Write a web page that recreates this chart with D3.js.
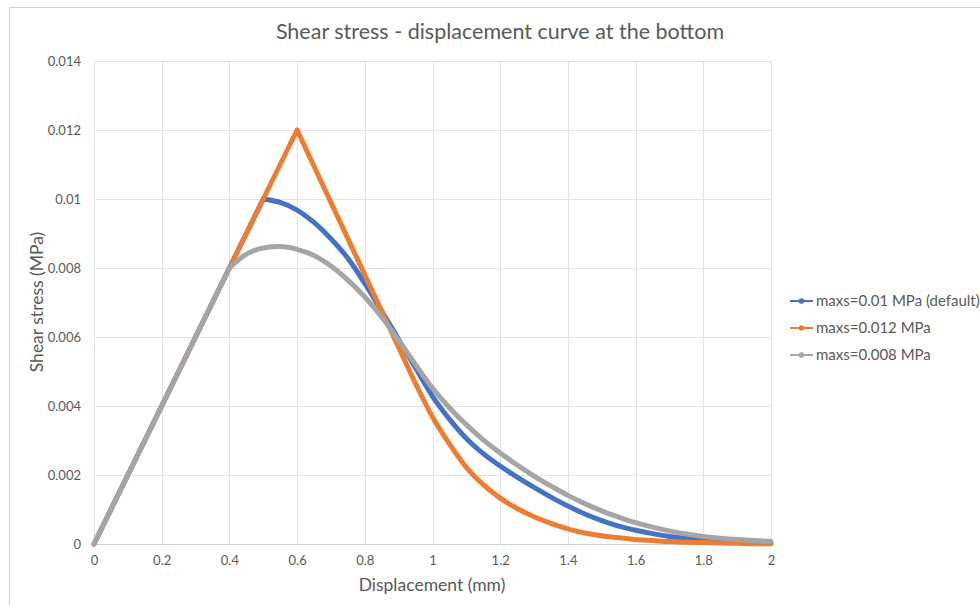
<!DOCTYPE html>
<html>
<head>
<meta charset="utf-8">
<script src="https://cdn.jsdelivr.net/npm/d3@7"></script>
<style>
  html, body { margin: 0; padding: 0; background: #fff; }
  svg { display: block; font-family: Lato, "Open Sans", sans-serif; }
</style>
</head>
<body>
<svg id="chart" width="980" height="605"></svg>
<script>
// Displacement (mm) sample points
const displacement = [0, 0.1, 0.2, 0.3, 0.4, 0.45, 0.5, 0.55, 0.6, 0.65, 0.7, 0.75, 0.8, 0.85, 0.9, 0.95,
  1.0, 1.05, 1.1, 1.15, 1.2, 1.25, 1.3, 1.35, 1.4, 1.45, 1.5, 1.55, 1.6, 1.65, 1.7, 1.75, 1.8, 1.85, 1.9, 1.95, 2.0];

// Shear stress (MPa) for each maxs setting
const stressDefault = [0, 0.002, 0.004, 0.006, 0.008, 0.009, 0.0100, 0.00990, 0.00968, 0.00932, 0.00885, 0.00828,
  0.00755, 0.00675, 0.00593, 0.00510, 0.00428, 0.00362, 0.00306, 0.00262, 0.00226, 0.00194, 0.00164, 0.00136,
  0.00110, 0.00087, 0.00068, 0.00052, 0.00040, 0.00030, 0.00022, 0.00016, 0.00012, 0.00008, 0.00005, 0.00003, 0.00002];
const stress012 = [0, 0.002, 0.004, 0.006, 0.008, 0.009, 0.010, 0.011, 0.012, 0.01095, 0.0099, 0.00885,
  0.0078, 0.00675, 0.0057, 0.00465, 0.00368, 0.0029, 0.00222, 0.00172, 0.00133, 0.00103, 0.00079, 0.00060,
  0.00044, 0.00032, 0.00024, 0.00018, 0.00013, 0.00010, 0.00007, 0.00005, 0.00004, 0.00003, 0.00002, 0.00001, 0.00001];
const stress008 = [0, 0.002, 0.004, 0.006, 0.008, 0.00840, 0.00858, 0.00862, 0.00854, 0.00836, 0.00806, 0.00765,
  0.00716, 0.00658, 0.00590, 0.00520, 0.00452, 0.00395, 0.00346, 0.00302, 0.00264, 0.00229, 0.00197, 0.00168,
  0.00141, 0.00117, 0.00096, 0.00078, 0.00062, 0.00049, 0.00038, 0.00029, 0.00022, 0.00017, 0.00013, 0.00010, 0.00008];

// displacement where each curve leaves the common elastic branch
const riseEnd = [0.5, 0.6, 0.4];

const seriesNames = ["maxs=0.01 MPa (default)", "maxs=0.012 MPa", "maxs=0.008 MPa"];
const seriesColors = ["#4472C4", "#ED7D31", "#A5A5A5"];
const seriesValues = [stressDefault, stress012, stress008];

const xTicks = [0, 0.2, 0.4, 0.6, 0.8, 1, 1.2, 1.4, 1.6, 1.8, 2];
const yTicks = [0, 0.002, 0.004, 0.006, 0.008, 0.01, 0.012, 0.014];

const svg = d3.select("#chart");
const textColor = "#595959";

// chart frame
svg.append("line").attr("x1", 9.5).attr("x2", 980).attr("y1", 7.5).attr("y2", 7.5)
  .attr("stroke", "#d0d0d0").attr("stroke-width", 1);
svg.append("line").attr("x1", 9.5).attr("x2", 9.5).attr("y1", 7.5).attr("y2", 605)
  .attr("stroke", "#d0d0d0").attr("stroke-width", 1);

const plot = { left: 94, right: 771, top: 61, bottom: 544 };
const x = d3.scaleLinear().domain([0, 2]).range([plot.left, plot.right]);
const y = d3.scaleLinear().domain([0, 0.014]).range([plot.bottom, plot.top]);

// gridlines
const grid = svg.append("g");
grid.selectAll("line.v").data(xTicks).join("line")
  .attr("x1", d => Math.round(x(d)) + 0.5).attr("x2", d => Math.round(x(d)) + 0.5)
  .attr("y1", plot.top).attr("y2", plot.bottom)
  .attr("stroke", "#e3e3e3").attr("stroke-width", 1);
grid.selectAll("line.h").data(yTicks).join("line")
  .attr("x1", plot.left).attr("x2", plot.right)
  .attr("y1", d => Math.round(y(d)) + 0.5).attr("y2", d => Math.round(y(d)) + 0.5)
  .attr("stroke", d => d === 0 ? "#d0d0d0" : "#e3e3e3").attr("stroke-width", 1);

// axes (labels only)
const xAxis = d3.axisBottom(x).tickValues(xTicks).tickSize(0).tickPadding(12)
  .tickFormat(d => String(d));
svg.append("g").attr("transform", `translate(0,${plot.bottom})`).call(xAxis)
  .call(g => g.select(".domain").remove())
  .call(g => g.selectAll("text").attr("fill", textColor).attr("font-size", 13)
    .attr("font-family", "Lato, sans-serif"));

const yAxis = d3.axisLeft(y).tickValues(yTicks).tickSize(0).tickPadding(13)
  .tickFormat(d => d === 0 ? "0" : String(+d.toFixed(3)));
svg.append("g").attr("transform", `translate(${plot.left},0)`).call(yAxis)
  .call(g => g.select(".domain").remove())
  .call(g => g.selectAll("text").attr("fill", textColor).attr("font-size", 13)
    .attr("font-family", "Lato, sans-serif"));

// series: straight elastic branch, then the smooth softening branch
const straight = d3.line().x(d => x(d[0])).y(d => y(d[1])).curve(d3.curveLinear);
const smooth = d3.line().x(d => x(d[0])).y(d => y(d[1])).curve(d3.curveMonotoneX);
seriesValues.forEach((vals, i) => {
  const pts = displacement.map((d, j) => [d, vals[j]]);
  const k = displacement.indexOf(riseEnd[i]);
  const g = svg.append("g")
    .attr("fill", "none")
    .attr("stroke", seriesColors[i])
    .attr("stroke-width", 5)
    .attr("stroke-linejoin", "round")
    .attr("stroke-linecap", "round");
  g.append("path").attr("d", straight(pts.slice(0, k + 1)));
  g.append("path").attr("d", smooth(pts.slice(k)));
});

// title
svg.append("text").attr("x", 500).attr("y", 39).attr("text-anchor", "middle")
  .attr("fill", textColor).attr("font-size", 21.5).text("Shear stress - displacement curve at the bottom");

// axis titles
svg.append("text").attr("x", 432).attr("y", 591).attr("text-anchor", "middle")
  .attr("fill", textColor).attr("font-size", 17.5).text("Displacement (mm)");
svg.append("text").attr("transform", "translate(43,302) rotate(-90)").attr("text-anchor", "middle")
  .attr("fill", textColor).attr("font-size", 17.5).text("Shear stress (MPa)");

// legend
const legend = svg.append("g");
const rowY = [301, 328, 355];
seriesNames.forEach((name, i) => {
  const g = legend.append("g").attr("transform", `translate(790,${rowY[i]})`);
  g.append("line").attr("x1", 0).attr("x2", 23).attr("y1", 0).attr("y2", 0)
    .attr("stroke", seriesColors[i]).attr("stroke-width", 2);
  g.append("circle").attr("cx", 11.5).attr("cy", 0).attr("r", 2.8).attr("fill", seriesColors[i]);
  g.append("text").attr("x", 26).attr("y", 0).attr("dy", "0.35em")
    .attr("fill", textColor).attr("font-size", 15).text(name);
});
</script>
</body>
</html>
